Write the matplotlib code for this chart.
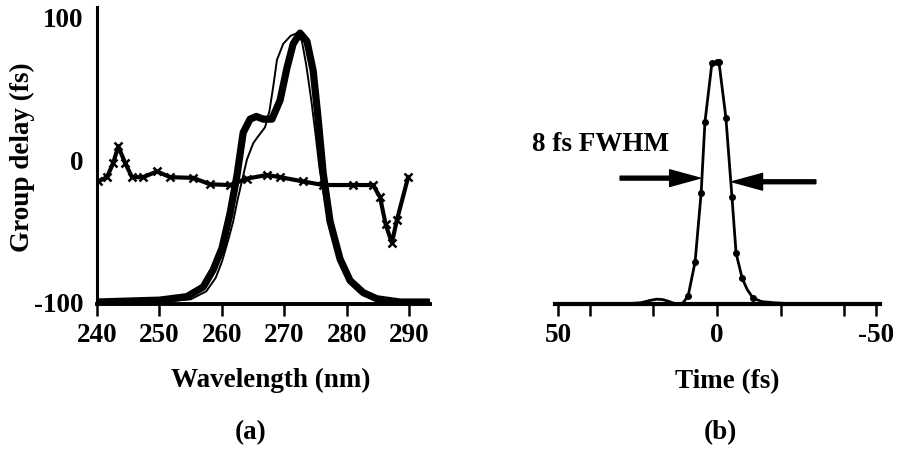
import matplotlib
matplotlib.use("Agg")
import matplotlib.pyplot as plt

plt.rcParams['font.family'] = ['Liberation Serif', 'DejaVu Serif']
plt.rcParams['font.weight'] = 'bold'
plt.rcParams['axes.labelweight'] = 'bold'
plt.rcParams['axes.unicode_minus'] = False
plt.rcParams['font.size'] = 19.5

# (a) group delay (x markers) and spectra
gd_wl = [240.2, 241.6, 242.6, 243.4, 244.5, 245.6, 247.4, 249.6, 251.7, 255.4, 258.1,
         261.3, 264.0, 267.2, 269.3, 273.0, 276.2, 281.0, 284.2, 285.3, 286.2, 287.2,
         288.0, 289.8]
gd_fs = [-15, -12, -2, 9.5, -2, -12, -12, -8, -12, -12.5, -17,
         -17.5, -13, -10.5, -12, -15, -17.5, -17.5, -17.5, -26, -45, -58,
         -42, -12]

spec_wl = [240, 250, 254.4, 257, 258.6, 260, 261.3, 262.4, 263.4, 264.5, 265.5, 266.6,
           268, 269.3, 270.4, 271.4, 272.5, 273.6, 274.6, 275.4, 276.2, 277.3, 278.9,
           280.5, 282.6, 284.8, 288.5, 293]
spec_thick = [0, 0.007, 0.02, 0.056, 0.12, 0.2, 0.33, 0.47, 0.63, 0.68, 0.69, 0.68,
              0.68, 0.75, 0.87, 0.96, 1.0, 0.97, 0.86, 0.68, 0.48, 0.3, 0.16,
              0.08, 0.035, 0.012, 0.0, 0.0]

thin_wl = [250, 255, 257.5, 259, 260, 261, 261.8, 262.5, 263.2, 264, 265, 265.6, 266.9,
           267.6, 268.2, 268.8, 269.8, 271, 272, 272.8, 273.5, 274.3, 275, 275.6, 276.3,
           277.3, 278.9, 280.5, 282.6, 285, 290]
spec_thin = [0, 0.01, 0.04, 0.09, 0.15, 0.23, 0.3, 0.38, 0.45, 0.53, 0.59, 0.61, 0.65,
             0.71, 0.8, 0.9, 0.96, 0.99, 1.0, 0.97, 0.88, 0.75, 0.62, 0.5, 0.4,
             0.27, 0.15, 0.07, 0.03, 0.01, 0]

# (b) pulse intensity
time_fs = [51, 40, 30, 24, 21, 19, 17, 15, 13, 11, 9.1, 6.9, 5.0, 3.8, 1.6, 0, -0.6,
           -2.8, -4.7, -6.0, -7.9, -9.5, -11.3, -14, -18, -25, -35, -45, -51]
pulse = [0, 0, 0, 0.005, 0.015, 0.02, 0.018, 0.01, 0.0, 0.0, 0.033, 0.174, 0.459,
         0.752, 0.996, 1.0, 1.0, 0.769, 0.442, 0.21, 0.107, 0.06, 0.025, 0.01, 0.005,
         0, 0, 0, 0]
dot_t = [9.1, 6.9, 5.0, 3.8, 1.6, 0, -0.6, -2.8, -4.7, -6.0, -7.9, -11.3]

fig = plt.figure(figsize=(8.98, 4.55), dpi=100)

# ---- panel (a)
ax1 = fig.add_axes([97/898, 1 - 304/455, 333/898, 297/455])
ax1.plot(gd_wl, gd_fs, color='black', lw=3, marker='x', ms=6, mew=1.8)
ax1.set_xlim(240, 293.3)
ax1.set_ylim(-100.7, 107)
ax1.set_xticks([240, 250, 260, 270, 280, 290])
ax1.set_yticks([-100, 0, 100])
ax1.tick_params(axis='x', direction='out', length=8.5, width=1.8, pad=5)
ax1.tick_params(axis='y', length=0, pad=10)
for s in ['top', 'right']:
    ax1.spines[s].set_visible(False)
ax1.spines['left'].set_linewidth(2.2)
ax1.spines['bottom'].set_linewidth(2.8)
ax1.set_xlabel('Wavelength (nm)', va='center')
ax1.xaxis.set_label_coords((271 - 97) / 333, (304 - 380) / 297)
ax1.set_ylabel('Group delay (fs)', va='center')
ax1.yaxis.set_label_coords((22 - 97) / 333, (304 - 157) / 297)

ax1b = ax1.twinx()
ax1b.plot(spec_wl, spec_thick, color='black', lw=5.2, solid_capstyle='round',
          solid_joinstyle='round')
ax1b.plot(thin_wl, spec_thin, color='black', lw=1.4)
ax1b.set_ylim(-0.0074, 1.097)
ax1b.set_yticks([])
for s in ax1b.spines.values():
    s.set_visible(False)

# ---- panel (b)
ax2 = fig.add_axes([555/898, 1 - 304/455, 325/898, 297/455])
ax2.plot(time_fs, pulse, color='black', lw=2)
ax2.plot(dot_t, [pulse[time_fs.index(t)] for t in dot_t], 'o', color='black', ms=4)
ax2.set_xlim(51, -51.3)
ax2.set_ylim(0, 1.227)
ax2.set_xticks([50, 40, 20, 0, -20, -40, -50])
ax2.set_xticklabels(['50', '', '', '0', '', '', '-50'])
ax2.set_yticks([])
ax2.tick_params(axis='x', direction='out', length=8.5, width=1.8, pad=5)
for s in ['top', 'right', 'left']:
    ax2.spines[s].set_visible(False)
ax2.spines['bottom'].set_linewidth(3.0)
ax2.set_xlabel('Time (fs)', va='center')
ax2.xaxis.set_label_coords((727 - 555) / 325, (304 - 382) / 297)

arrow = dict(facecolor='black', edgecolor='black', width=2.8, headwidth=12, headlength=22)
ax2.annotate('', xy=(5.3, 0.52), xytext=(30.5, 0.52), arrowprops=arrow)
ax2.annotate('', xy=(-4.7, 0.505), xytext=(-31.1, 0.505), arrowprops=arrow)
ax2.text(36.8, 0.657, '8 fs FWHM', ha='center', va='center')

fig.text(251/898, 1 - 433/455, '(a)', ha='center', va='center')
fig.text(720/898, 1 - 433/455, '(b)', ha='center', va='center')

fig.savefig('out.png', dpi=100)
